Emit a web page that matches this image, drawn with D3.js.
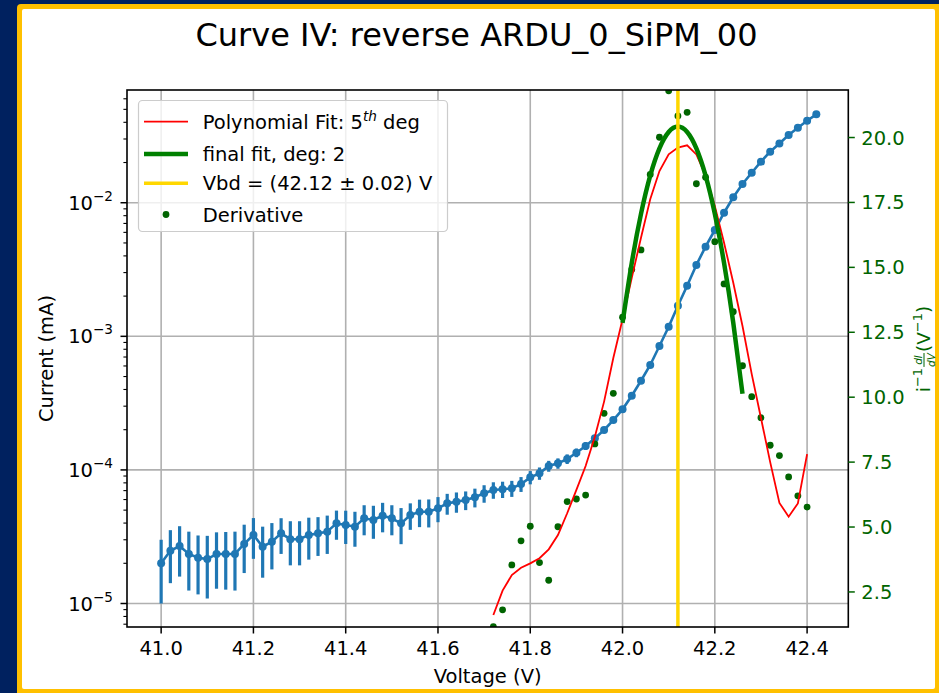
<!DOCTYPE html>
<html><head><meta charset="utf-8">
<script src="https://cdn.jsdelivr.net/npm/d3@7"></script>
<style>
html,body{margin:0;padding:0;background:#00215f;overflow:hidden;}
svg{display:block;font-family:"DejaVu Sans",sans-serif;}
</style>
</head><body>
<svg id="c" width="939" height="693"></svg>
<script>
// ---------------- DATA ----------------
const voltages = [41.00,41.02,41.04,41.06,41.08,41.10,41.12,41.14,41.16,41.18,
  41.20,41.22,41.24,41.26,41.28,41.30,41.32,41.34,41.36,41.38,
  41.40,41.42,41.44,41.46,41.48,41.50,41.52,41.54,41.56,41.58,
  41.60,41.62,41.64,41.66,41.68,41.70,41.72,41.74,41.76,41.78,
  41.80,41.82,41.84,41.86,41.88,41.90,41.92,41.94,41.96,41.98,
  42.00,42.02,42.04,42.06,42.08,42.10,42.12,42.14,42.16,42.18,
  42.20,42.22,42.24,42.26,42.28,42.30,42.32,42.34,42.36,42.38,
  42.40,42.42];
const current = [2.00e-5,2.48e-5,2.69e-5,2.35e-5,2.20e-5,2.15e-5,2.35e-5,2.35e-5,2.35e-5,2.79e-5,
  3.26e-5,2.66e-5,2.90e-5,3.35e-5,3.03e-5,3.03e-5,3.26e-5,3.35e-5,3.45e-5,3.98e-5,
  3.87e-5,3.76e-5,4.34e-5,4.22e-5,4.54e-5,4.34e-5,3.98e-5,4.59e-5,4.86e-5,4.86e-5,
  5.16e-5,5.62e-5,5.78e-5,5.95e-5,6.24e-5,6.68e-5,7.08e-5,7.16e-5,7.28e-5,7.84e-5,
  8.80e-5,9.43e-5,1.069e-4,1.120e-4,1.207e-4,1.345e-4,1.510e-4,1.723e-4,1.99e-4,2.36e-4,
  2.84e-4,3.59e-4,4.65e-4,6.10e-4,8.46e-4,1.180e-3,1.694e-3,2.39e-3,3.42e-3,4.69e-3,
  6.25e-3,8.42e-3,1.098e-2,1.380e-2,1.677e-2,2.03e-2,2.41e-2,2.78e-2,3.21e-2,3.64e-2,
  4.11e-2,4.59e-2];
const currentErr = [1.00e-5,1.06e-5,1.10e-5,1.10e-5,1.03e-5,1.06e-5,1.06e-5,1.08e-5,1.10e-5,1.10e-5,
  1.10e-5,1.10e-5,1.10e-5,1.00e-5,1.10e-5,1.10e-5,1.13e-5,1.08e-5,1.10e-5,0.98e-5,
  1.08e-5,1.10e-5,1.10e-5,1.17e-5,1.13e-5,1.10e-5,1.20e-5,1.03e-5,1.13e-5,1.15e-5,
  1.10e-5,1.00e-5,1.00e-5,0.95e-5,1.00e-5,1.00e-5,1.00e-5,1.00e-5,1.00e-5,1.00e-5,
  1.00e-5,1.00e-5,1.00e-5,1.00e-5,1.00e-5,1.00e-5,1.00e-5,1.00e-5,1.00e-5,1.00e-5,
  1.00e-5,1.00e-5,1.00e-5,1.00e-5,1.00e-5,1.00e-5,1.00e-5,1.00e-5,1.00e-5,1.00e-5,
  1.00e-5,1.00e-5,1.00e-5,1.00e-5,1.00e-5,1.00e-5,1.00e-5,1.00e-5,1.00e-5,1.00e-5,
  1.00e-5,1.00e-5];

const derivV = [41.72,41.74,41.76,41.78,41.80,41.82,41.84,41.86,41.88,41.90,
  41.92,41.94,41.96,41.98,42.00,42.02,42.04,42.06,42.08,42.10,
  42.12,42.14,42.16,42.18,42.20,42.22,42.24,42.26,42.28,42.30,
  42.32,42.34,42.36,42.38,42.40];
const derivative = [1.16,1.81,3.54,4.47,5.03,3.63,2.95,5.01,5.98,6.08,
  6.23,8.20,9.38,10.15,13.08,14.92,15.67,18.58,20.01,21.80,
  20.83,20.97,18.22,18.47,15.99,14.36,13.29,11.21,10.02,9.21,
  8.15,7.75,6.93,6.20,5.77];
const polyFit = [1.61,2.55,3.15,3.43,3.60,3.80,4.14,4.69,5.53,6.43,
  7.35,8.48,9.83,11.51,13.00,14.60,16.14,17.62,18.71,19.35,
  19.61,19.70,19.35,18.54,17.36,15.95,14.41,12.74,10.89,9.20,
  7.50,5.93,5.40,5.91,7.81];
const finalFitV = [42.00,42.02,42.04,42.06,42.08,42.10,42.12,42.14,42.16,42.18,42.20,42.22,42.24,42.26];
const finalFit  = [12.86,15.17,17.06,18.53,19.58,20.21,20.42,20.21,19.58,18.53,17.06,15.17,12.86,10.13];
const vbd = 42.12;

const xTicks = [41.0,41.2,41.4,41.6,41.8,42.0,42.2,42.4];
const yLeftMajor = [1e-5,1e-4,1e-3,1e-2];
const yRightTicks = [2.5,5.0,7.5,10.0,12.5,15.0,17.5,20.0];
const legendLabels = ["Polynomial Fit: 5", "final fit, deg: 2", "Vbd = (42.12 \u00b1 0.02) V", "Derivative"];

// ---------------- LAYOUT ----------------
const svg = d3.select("#c");
const L = 127, R = 848.3, T = 90, B = 627;
const fs = 19.5, fsSup = 13.6;
const tickLen = 6.5, pad = 6.5;
const green = "#006400", blue = "#1f77b4";

// frame
svg.append("rect").attr("x",0).attr("y",0).attr("width",939).attr("height",693).attr("fill","#00215f");
svg.append("rect").attr("x",17).attr("y",4).attr("width",940).attr("height",700).attr("rx",4).attr("fill","#ffc000");
svg.append("rect").attr("x",22).attr("y",9).attr("width",913).attr("height",680).attr("rx",2).attr("fill","#ffffff");

const x = d3.scaleLinear().domain([40.926, 42.4893]).range([L, R]);
const yL = d3.scaleLog().domain([6.67e-6, 0.0698]).range([B, T]);
const yR = d3.scaleLinear().domain([1.15, 21.83]).range([B, T]);

svg.append("defs").append("clipPath").attr("id","clip")
  .append("rect").attr("x",L).attr("y",T).attr("width",R-L).attr("height",B-T);

// grid
const grid = svg.append("g").attr("stroke","#b0b0b0").attr("stroke-width",1.6);
xTicks.forEach(t=>grid.append("line").attr("x1",x(t)).attr("x2",x(t)).attr("y1",T).attr("y2",B));
yLeftMajor.forEach(t=>grid.append("line").attr("x1",L).attr("x2",R).attr("y1",yL(t)).attr("y2",yL(t)));

// blue data with error bars
const plot = svg.append("g").attr("clip-path","url(#clip)");
const pts = voltages.map((v,i)=>({v, c:current[i], e:currentErr[i]}));
plot.append("g").attr("stroke",blue).attr("stroke-width",3.2)
  .selectAll("line").data(pts).join("line")
  .attr("x1",d=>x(d.v)).attr("x2",d=>x(d.v))
  .attr("y1",d=>yL(Math.max(d.c-d.e,1e-9))).attr("y2",d=>yL(d.c+d.e));
plot.append("path").datum(pts)
  .attr("d", d3.line().x(d=>x(d.v)).y(d=>yL(d.c)))
  .attr("fill","none").attr("stroke",blue).attr("stroke-width",2.6);
plot.append("g").attr("fill",blue).selectAll("circle").data(pts).join("circle")
  .attr("cx",d=>x(d.v)).attr("cy",d=>yL(d.c)).attr("r",4);

// right-axis series
const dpts = derivV.map((v,i)=>({v, d:derivative[i], p:polyFit[i]}));
plot.append("g").attr("fill",green).selectAll("circle").data(dpts).join("circle")
  .attr("cx",d=>x(d.v)).attr("cy",d=>yR(d.d)).attr("r",3.4);
plot.append("path").datum(dpts)
  .attr("d", d3.line().x(d=>x(d.v)).y(d=>yR(d.p)))
  .attr("fill","none").attr("stroke","#ff0000").attr("stroke-width",1.8);
const fpts = finalFitV.map((v,i)=>({v, f:finalFit[i]}));
plot.append("path").datum(fpts)
  .attr("d", d3.line().curve(d3.curveNatural).x(d=>x(d.v)).y(d=>yR(d.f)))
  .attr("fill","none").attr("stroke","#008000").attr("stroke-width",4.5);
plot.append("line").attr("x1",x(vbd)).attr("x2",x(vbd)).attr("y1",T).attr("y2",B)
  .attr("stroke","#ffd700").attr("stroke-width",3.5);

// spines
svg.append("rect").attr("x",L).attr("y",T).attr("width",R-L).attr("height",B-T)
  .attr("fill","none").attr("stroke","#000").attr("stroke-width",1.6);

// x axis ticks
const xa = svg.append("g");
xTicks.forEach(t=>{
  xa.append("line").attr("x1",x(t)).attr("x2",x(t)).attr("y1",B).attr("y2",B+tickLen).attr("stroke","#000").attr("stroke-width",1.5);
  xa.append("text").attr("x",x(t)).attr("y",B+tickLen+pad+14.6).attr("text-anchor","middle").attr("font-size",fs).text(t.toFixed(1));
});
svg.append("text").attr("x",(L+R)/2).attr("y",683).attr("text-anchor","middle").attr("font-size",fs).text("Voltage (V)");

// left log axis
const ya = svg.append("g");
const [lo, hi] = yL.domain();
for (let e=-6; e<=-1; e++){
  for (let k=2;k<=9;k++){
    const v = k*Math.pow(10,e);
    if (v>=lo && v<=hi){
      ya.append("line").attr("x1",L-3.6).attr("x2",L).attr("y1",yL(v)).attr("y2",yL(v)).attr("stroke","#000").attr("stroke-width",1.1);
    }
  }
}
yLeftMajor.forEach(t=>{
  const y = yL(t);
  ya.append("line").attr("x1",L-tickLen).attr("x2",L).attr("y1",y).attr("y2",y).attr("stroke","#000").attr("stroke-width",1.5);
  const ex = Math.round(Math.log10(t));
  const tx = ya.append("text").attr("x",L-tickLen-pad-1).attr("y",y+7).attr("text-anchor","end").attr("font-size",fs);
  tx.append("tspan").text("10");
  tx.append("tspan").attr("dy",-9).attr("font-size",fsSup).text("\u2212"+Math.abs(ex));
});
svg.append("text").attr("transform",`translate(53,${(T+B)/2}) rotate(-90)`).attr("text-anchor","middle")
  .attr("font-size",fs).text("Current (mA)");

// right axis
const ra = svg.append("g");
yRightTicks.forEach(t=>{
  const y = yR(t);
  ra.append("line").attr("x1",R).attr("x2",R+tickLen).attr("y1",y).attr("y2",y).attr("stroke",green).attr("stroke-width",1.5);
  ra.append("text").attr("x",R+tickLen+pad).attr("y",y+7).attr("font-size",fs).attr("fill",green).text(t.toFixed(1));
});
// right label: i^{-1} dI/dV (V^{-1})
const rl = svg.append("g").attr("fill",green);
const inner = rl.append("g");
const lfs = 18.5, lsup = 13;
let cx = 0;
function piece(str, size, dy, italic){
  const t = inner.append("text").attr("x",cx).attr("y",dy).attr("font-size",size).text(str);
  if (italic) t.attr("font-style","italic");
  const w = t.node().getComputedTextLength();
  cx += w; return w;
}
piece("i", lfs, 0);
piece("\u22121", lsup, -8);
cx += 1;
const fx = cx;
const n1 = inner.append("text").attr("x",fx).attr("y",-8.5).attr("font-size",10.5).attr("font-style","italic").text("dI");
const d1 = inner.append("text").attr("x",fx).attr("y",4.5).attr("font-size",10.5).attr("font-style","italic").text("dV");
const fw = Math.max(n1.node().getComputedTextLength(), d1.node().getComputedTextLength());
n1.attr("x", fx + (fw - n1.node().getComputedTextLength())/2);
d1.attr("x", fx + (fw - d1.node().getComputedTextLength())/2);
inner.append("rect").attr("x",fx).attr("y",-6.5).attr("width",fw).attr("height",1);
cx += fw + 1;
piece(" (V", lfs, 0);
piece("\u22121", lsup, -8);
piece(")", lfs, 0);
inner.attr("transform",`translate(${-cx/2},0)`);
rl.attr("transform",`translate(930,349) rotate(-90)`);

// title
svg.append("text").attr("x",476.5).attr("y",46).attr("text-anchor","middle").attr("font-size",32).text("Curve IV: reverse ARDU_0_SiPM_00");

// legend
const lg = svg.append("g");
lg.append("rect").attr("x",138.5).attr("y",100.5).attr("width",309).attr("height",131).attr("rx",4)
  .attr("fill","#ffffff").attr("fill-opacity",0.8).attr("stroke","#cccccc").attr("stroke-width",1.2);
const ly = [121.7,154,183.3,214.5];
lg.append("line").attr("x1",144).attr("x2",188).attr("y1",ly[0]).attr("y2",ly[0]).attr("stroke","#ff0000").attr("stroke-width",1.8);
lg.append("line").attr("x1",144).attr("x2",188).attr("y1",ly[1]).attr("y2",ly[1]).attr("stroke","#008000").attr("stroke-width",4.5);
lg.append("line").attr("x1",144).attr("x2",188).attr("y1",ly[2]).attr("y2",ly[2]).attr("stroke","#ffd700").attr("stroke-width",3.5);
lg.append("circle").attr("cx",166).attr("cy",ly[3]).attr("r",3.4).attr("fill",green);
legendLabels.forEach((s,i)=>{
  const t = lg.append("text").attr("x",202.7).attr("y",ly[i]+7).attr("font-size",fs);
  t.append("tspan").text(s);
  if (i===0){
    t.append("tspan").attr("dy",-8).attr("font-size",fsSup).attr("font-style","italic").text("th");
    t.append("tspan").attr("dy",8).text(" deg");
  }
});
</script>
</body></html>
